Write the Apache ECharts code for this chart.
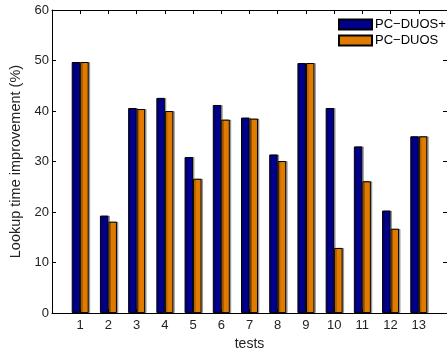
<!DOCTYPE html>
<html>
<head>
<meta charset="utf-8">
<script src="https://cdn.jsdelivr.net/npm/echarts@6/dist/echarts.min.js"></script>
<style>
html,body{margin:0;padding:0;background:#fff;}
#c{width:447px;height:356px;}
</style>
</head>
<body>
<div id="c"></div>
<script>
var categories = [1, 2, 3, 4, 5, 6, 7, 8, 9, 10, 11, 12, 13];
var xTickLabels = ['1','2','3','4','5','6','7','8','9','10','11','12','13'];
var pcDuosPlus = [49.7, 19.3, 40.6, 42.6, 30.9, 41.2, 38.7, 31.4, 49.5, 40.6, 33.0, 20.3, 35.0];
var pcDuos     = [49.7, 18.1, 40.4, 40.0, 26.6, 38.3, 38.5, 30.1, 49.5, 12.9, 26.1, 16.7, 35.0];
var yTicks = [0, 10, 20, 30, 40, 50, 60];
var seriesNames = ['PC\u2212DUOS+', 'PC\u2212DUOS'];
var xAxisName = 'tests';
var yAxisName = 'Lookup time improvement (%)';

var font = 'Liberation Sans, Arial, Helvetica, sans-serif';
function pairs(vals){ return categories.map(function(c,i){ return [c, vals[i]]; }); }

var chart = echarts.init(document.getElementById('c'), null, {renderer:'canvas'});
var axisLine = {show:true, onZero:false, lineStyle:{color:'#000', width:1}};
var tickStyle = {show:true, inside:true, length:4, lineStyle:{color:'#000', width:1}};
var option = {
  animation:false,
  backgroundColor:'#fff',
  grid:{left:52, top:10, width:399, height:311, containLabel:false},
  legend:{
    orient:'vertical', left:338, top:18, padding:0, itemGap:3,
    itemWidth:33, itemHeight:10, icon:'rect',
    textStyle:{fontFamily:font, fontSize:13, color:'#000', padding:[0,0,0,-2]},
    data:seriesNames
  },
  xAxis:[
    {type:'value', position:'bottom', min:0, max:14, interval:1,
     axisLine:axisLine, axisTick:tickStyle, splitLine:{show:false},
     axisLabel:{show:true, margin:6, fontFamily:font, fontSize:13, color:'#222',
       showMinLabel:false, showMaxLabel:false,
       formatter:function(v){ var i = categories.indexOf(v); return i>=0 ? xTickLabels[i] : ''; }},
     name:xAxisName, nameLocation:'middle', nameGap:18,
     nameTextStyle:{fontFamily:font, fontSize:14, color:'#222'}},
    {type:'value', position:'top', min:0, max:14, interval:1,
     axisLine:axisLine, axisTick:tickStyle, splitLine:{show:false}, axisLabel:{show:false}}
  ],
  yAxis:[
    {type:'value', position:'left', min:0, max:60, interval:10,
     axisLine:axisLine, axisTick:tickStyle, splitLine:{show:false},
     axisLabel:{margin:3, fontFamily:font, fontSize:13, color:'#222',
       formatter:function(v){ return yTicks.indexOf(v)>=0 ? String(v) : ''; }},
     name:yAxisName, nameLocation:'middle', nameGap:24,
     nameTextStyle:{fontFamily:font, fontSize:14.5, color:'#222'}},
    {type:'value', position:'right', min:0, max:60, interval:10,
     axisLine:axisLine, axisTick:tickStyle, splitLine:{show:false}, axisLabel:{show:false}}
  ],
  series:[
    {name:seriesNames[0], type:'bar', xAxisIndex:0, yAxisIndex:0, barWidth:8.5, barGap:'0%',
     itemStyle:{color:'#00008C', borderColor:'#000', borderWidth:1,
       shadowColor:'rgba(0,0,0,0.3)', shadowOffsetX:1.5, shadowBlur:0},
     data:pairs(pcDuosPlus)},
    {name:seriesNames[1], type:'bar', xAxisIndex:0, yAxisIndex:0, barWidth:8.5, barGap:'0%',
     itemStyle:{color:'#E07B00', borderColor:'#000', borderWidth:1,
       shadowColor:'rgba(0,0,0,0.3)', shadowOffsetX:1.5, shadowBlur:0},
     data:pairs(pcDuos)}
  ]
};
chart.setOption(option);
</script>
</body>
</html>
